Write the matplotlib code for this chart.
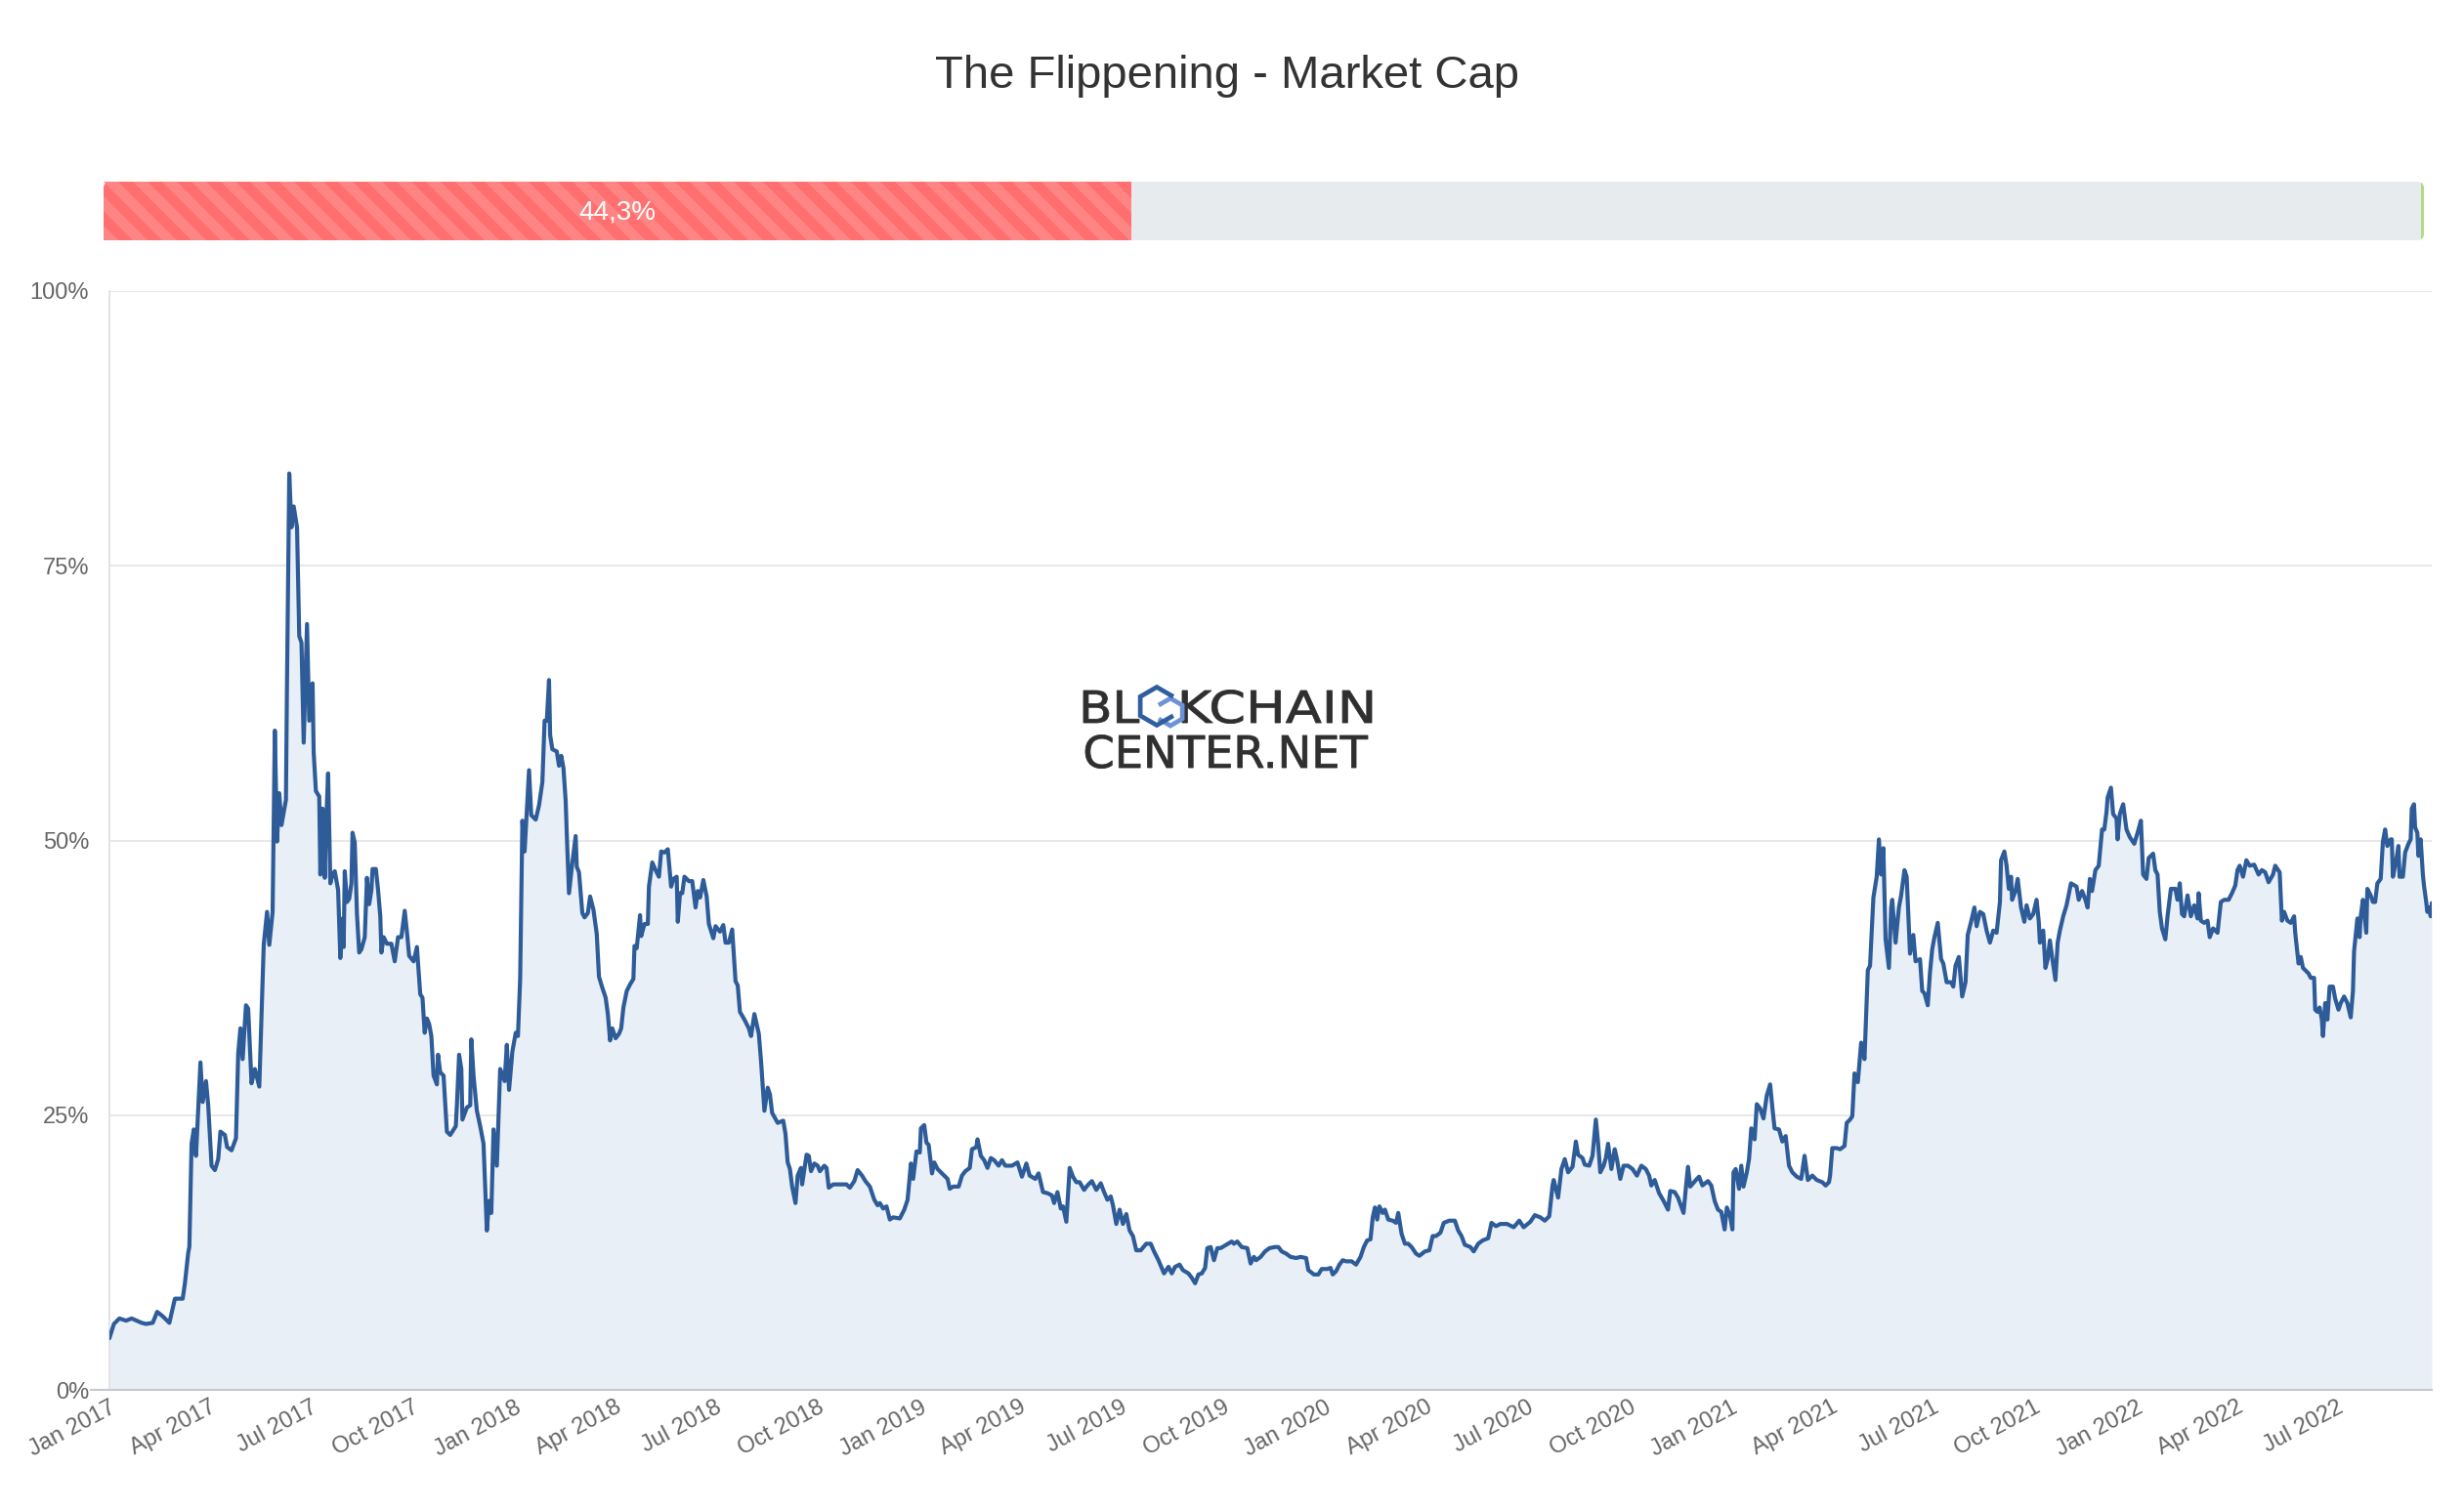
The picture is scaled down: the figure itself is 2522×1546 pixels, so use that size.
import matplotlib
matplotlib.use('Agg')
import matplotlib.pyplot as plt
import matplotlib.dates as mdates
from matplotlib.patches import FancyBboxPatch, Rectangle, Polygon, PathPatch
from matplotlib.lines import Line2D
from matplotlib.textpath import TextPath
from matplotlib.font_manager import FontProperties
from matplotlib.transforms import Affine2D
import pandas as pd
import numpy as np

plt.rcParams['font.family'] = ['Liberation Sans', 'DejaVu Sans']

TITLE = 'The Flippening - Market Cap'
CURRENT_PCT = 44.3
CURRENT_LABEL = '44,3%'
Y_TICKS = [0, 25, 50, 75, 100]
Y_TICK_LABELS = ['0%', '25%', '50%', '75%', '100%']
WATERMARK = ('BL', 'KCHAIN', 'CENTER.NET')

# (MM-DD, ETH market cap as % of BTC market cap)
data_2017 = [
    ('01-01', 4.7), ('01-05', 6.0), ('01-10', 6.5), ('01-16', 6.3), ('01-21', 6.5), ('01-30', 6.1),
    ('02-03', 6.0), ('02-09', 6.1), ('02-13', 7.1), ('02-18', 6.7), ('02-24', 6.1),
    ('03-01', 8.3), ('03-08', 8.3), ('03-10', 9.7), ('03-13', 12.5), ('03-14', 13.0), ('03-16', 22.4),
    ('03-18', 23.7), ('03-20', 21.3), ('03-24', 29.8), ('03-26', 26.2), ('03-29', 28.1), ('03-31', 25.9),
    ('04-03', 20.4), ('04-06', 20.0), ('04-09', 21.0), ('04-11', 23.5), ('04-15', 23.2), ('04-17', 22.1),
    ('04-21', 21.8), ('04-25', 22.9), ('04-27', 30.6), ('04-29', 32.9),
    ('05-01', 30.1), ('05-04', 35.0), ('05-06', 34.7), ('05-09', 27.9), ('05-12', 29.2), ('05-16', 27.6),
    ('05-18', 33.9), ('05-20', 40.5), ('05-23', 43.5), ('05-25', 40.5), ('05-28', 43.5), ('05-30', 60.0),
    ('06-01', 49.9), ('06-03', 54.3), ('06-05', 51.4), ('06-09', 53.7), ('06-10', 64.7), ('06-12', 83.4),
    ('06-14', 78.5), ('06-16', 80.4), ('06-19', 78.5), ('06-21', 68.6), ('06-23', 68.0), ('06-25', 58.9),
    ('06-28', 69.7), ('06-30', 60.9),
    ('07-03', 64.3), ('07-04', 58.0), ('07-06', 54.5), ('07-09', 54.0), ('07-10', 46.9), ('07-12', 52.9),
    ('07-14', 46.6), ('07-15', 51.0), ('07-17', 56.1), ('07-19', 46.1), ('07-21', 46.9), ('07-23', 47.2),
    ('07-26', 45.5), ('07-28', 39.3), ('07-30', 42.9), ('07-31', 40.3),
    ('08-01', 47.2), ('08-03', 44.4), ('08-05', 44.7), ('08-07', 46.1), ('08-08', 50.7), ('08-10', 49.8),
    ('08-12', 43.3), ('08-14', 39.8), ('08-16', 40.1), ('08-19', 41.2), ('08-21', 46.6), ('08-23', 44.2),
    ('08-25', 45.5), ('08-26', 47.4), ('08-29', 47.4), ('08-31', 45.5),
    ('09-02', 43.1), ('09-03', 39.8), ('09-05', 41.2), ('09-08', 40.6), ('09-12', 40.6), ('09-15', 39.0),
    ('09-18', 41.2), ('09-21', 41.2), ('09-24', 43.6), ('09-26', 41.7), ('09-28', 39.5),
    ('10-02', 39.0), ('10-05', 40.3), ('10-08', 36.0), ('10-10', 35.7), ('10-12', 32.5), ('10-14', 33.8),
    ('10-16', 33.3), ('10-18', 32.2), ('10-20', 28.6), ('10-23', 27.8), ('10-24', 30.5), ('10-26', 28.9),
    ('10-29', 28.6),
    ('11-01', 23.5), ('11-04', 23.2), ('11-09', 24.0), ('11-10', 25.9), ('11-12', 30.5), ('11-14', 29.2),
    ('11-15', 24.6), ('11-19', 25.7), ('11-22', 25.9), ('11-23', 31.9), ('11-25', 28.6), ('11-28', 25.4),
    ('12-01', 24.0), ('12-04', 22.4), ('12-07', 14.5), ('12-09', 17.2), ('12-11', 16.1), ('12-13', 23.7),
    ('12-16', 20.4), ('12-19', 29.2), ('12-23', 28.1), ('12-25', 31.4), ('12-27', 27.3), ('12-30', 30.8),
]

data_2018 = [
    ('01-02', 32.5), ('01-04', 32.2), ('01-06', 37.4), ('01-08', 51.8), ('01-10', 49.0), ('01-14', 56.4),
    ('01-16', 52.3), ('01-20', 51.9), ('01-23', 53.2), ('01-26', 55.3), ('01-28', 60.9), ('01-30', 60.9),
    ('02-01', 64.6), ('02-02', 59.6), ('02-04', 58.3), ('02-08', 58.1), ('02-10', 56.8), ('02-12', 57.7),
    ('02-14', 56.6), ('02-16', 53.6), ('02-17', 50.6), ('02-19', 45.2), ('02-22', 48.0), ('02-25', 50.4),
    ('02-26', 47.6), ('02-28', 47.1),
    ('03-03', 43.4), ('03-05', 43.0), ('03-08', 43.4), ('03-10', 44.9), ('03-13', 43.7), ('03-16', 41.5),
    ('03-18', 37.6), ('03-21', 36.6), ('03-24', 35.7), ('03-26', 34.2), ('03-28', 31.8), ('03-30', 32.9),
    ('04-02', 32.0), ('04-05', 32.4), ('04-07', 32.9), ('04-09', 34.8), ('04-12', 36.3), ('04-15', 36.9),
    ('04-18', 37.4), ('04-19', 40.4), ('04-21', 40.2), ('04-24', 43.2), ('04-25', 41.3), ('04-28', 42.4),
    ('05-01', 42.4), ('05-02', 45.8), ('05-05', 48.0), ('05-08', 47.3), ('05-11', 46.7), ('05-13', 49.0),
    ('05-16', 48.9), ('05-19', 49.2), ('05-22', 45.8), ('05-24', 46.5), ('05-27', 46.7), ('05-28', 42.6),
    ('05-30', 45.2),
    ('06-01', 45.2), ('06-03', 46.7), ('06-07', 46.3), ('06-10', 46.3), ('06-13', 43.9), ('06-15', 45.4),
    ('06-17', 44.8), ('06-20', 46.4), ('06-23', 44.9), ('06-25', 42.4), ('06-29', 41.1),
    ('07-01', 42.2), ('07-05', 41.7), ('07-08', 42.3), ('07-10', 40.7), ('07-13', 40.7), ('07-16', 41.9),
    ('07-19', 37.2), ('07-21', 36.8), ('07-23', 34.4), ('07-27', 33.7), ('07-31', 32.9),
    ('08-02', 32.2), ('08-05', 34.2), ('08-07', 33.3), ('08-09', 32.4), ('08-11', 29.9), ('08-14', 25.4),
    ('08-17', 27.5), ('08-19', 26.9), ('08-21', 25.2), ('08-26', 24.3), ('08-31', 24.5),
    ('09-02', 23.3), ('09-04', 20.7), ('09-06', 20.1), ('09-08', 18.5), ('09-11', 17.0), ('09-13', 19.5),
    ('09-16', 20.2), ('09-17', 18.7), ('09-21', 21.4), ('09-23', 21.3), ('09-25', 19.9), ('09-28', 20.6),
    ('10-01', 20.4), ('10-03', 19.9), ('10-07', 20.4), ('10-09', 20.2), ('10-11', 18.4), ('10-15', 18.7),
    ('10-21', 18.7), ('10-27', 18.7), ('10-30', 18.4),
    ('11-03', 19.0), ('11-06', 20.0), ('11-10', 19.5), ('11-13', 19.0), ('11-17', 18.5), ('11-21', 17.3),
    ('11-24', 16.8), ('11-26', 17.0), ('11-29', 16.5),
    ('12-02', 16.7), ('12-05', 15.5), ('12-08', 15.7), ('12-14', 15.6), ('12-18', 16.4), ('12-21', 17.3),
    ('12-24', 20.6), ('12-26', 19.2), ('12-29', 21.7),
]

data_2019 = [
    ('01-01', 21.6), ('01-02', 23.8), ('01-05', 24.1), ('01-07', 22.5), ('01-09', 22.3), ('01-12', 19.7),
    ('01-14', 20.7), ('01-17', 20.1), ('01-21', 19.7), ('01-26', 19.2), ('01-28', 18.3), ('01-31', 18.5),
    ('02-05', 18.5), ('02-08', 19.5), ('02-11', 19.9), ('02-15', 20.2), ('02-17', 21.9), ('02-21', 22.1),
    ('02-22', 22.8), ('02-25', 21.3), ('02-28', 20.9),
    ('03-03', 20.2), ('03-06', 21.1), ('03-09', 20.9), ('03-13', 20.4), ('03-16', 20.9), ('03-19', 20.4),
    ('03-25', 20.4), ('03-30', 20.7),
    ('04-03', 19.4), ('04-07', 20.6), ('04-10', 19.5), ('04-15', 19.2), ('04-18', 19.7), ('04-22', 18.0),
    ('04-26', 17.9), ('04-30', 17.7),
    ('05-02', 17.0), ('05-05', 18.0), ('05-08', 16.5), ('05-10', 16.7), ('05-13', 15.3), ('05-16', 20.2),
    ('05-19', 19.4), ('05-22', 18.9), ('05-25', 18.9), ('05-29', 18.2),
    ('06-01', 18.6), ('06-05', 19.0), ('06-09', 18.2), ('06-13', 18.8), ('06-16', 18.0), ('06-19', 17.3),
    ('06-22', 17.6), ('06-24', 16.8), ('06-27', 15.1), ('06-30', 16.4),
    ('07-03', 15.1), ('07-06', 16.0), ('07-09', 14.5), ('07-12', 14.0), ('07-15', 12.7), ('07-19', 12.7),
    ('07-24', 13.3), ('07-28', 13.3), ('07-31', 12.6),
    ('08-04', 11.8), ('08-09', 10.6), ('08-13', 11.2), ('08-16', 10.6), ('08-19', 11.2), ('08-23', 11.4),
    ('08-26', 10.9), ('08-31', 10.6),
    ('09-03', 10.2), ('09-06', 9.7), ('09-09', 10.5), ('09-12', 10.6), ('09-15', 11.1), ('09-17', 12.9),
    ('09-20', 13.0), ('09-23', 11.8), ('09-26', 12.9), ('09-29', 12.9),
    ('10-04', 13.2), ('10-09', 13.5), ('10-11', 13.3), ('10-14', 13.5), ('10-18', 13.0), ('10-23', 12.9),
    ('10-26', 11.5), ('10-29', 12.1), ('10-31', 11.8),
    ('11-04', 12.1), ('11-08', 12.6), ('11-12', 12.9), ('11-17', 13.0), ('11-20', 13.0), ('11-23', 12.6),
    ('11-27', 12.4),
    ('12-01', 12.1), ('12-06', 12.0), ('12-10', 12.1), ('12-15', 12.0), ('12-17', 10.9), ('12-22', 10.5),
    ('12-26', 10.5), ('12-29', 11.0),
]

data_2020 = [
    ('01-03', 11.0), ('01-06', 11.1), ('01-08', 10.5), ('01-11', 10.8), ('01-14', 11.4), ('01-17', 11.8),
    ('01-20', 11.7), ('01-25', 11.7), ('01-29', 11.4),
    ('02-02', 12.1), ('02-05', 13.0), ('02-08', 13.6), ('02-11', 13.7), ('02-13', 15.7), ('02-15', 16.6),
    ('02-17', 15.5), ('02-19', 16.7), ('02-22', 16.1), ('02-24', 16.4), ('02-27', 15.5),
    ('03-02', 15.4), ('03-05', 15.2), ('03-07', 16.1), ('03-10', 14.2), ('03-13', 13.3), ('03-16', 13.3),
    ('03-19', 13.0), ('03-23', 12.4), ('03-26', 12.2), ('03-31', 12.6),
    ('04-04', 12.7), ('04-07', 14.0), ('04-10', 14.0), ('04-14', 14.3), ('04-17', 15.2), ('04-22', 15.4),
    ('04-27', 15.4), ('04-30', 14.5),
    ('05-03', 14.0), ('05-06', 13.2), ('05-11', 13.0), ('05-14', 12.6), ('05-18', 13.3), ('05-22', 13.6),
    ('05-27', 13.8), ('05-30', 15.2),
    ('06-03', 14.9), ('06-07', 15.1), ('06-13', 15.1), ('06-19', 14.8), ('06-24', 15.4), ('06-28', 14.8),
    ('07-04', 15.3), ('07-08', 15.9), ('07-13', 15.7), ('07-17', 15.4), ('07-21', 15.8), ('07-24', 18.6),
    ('07-25', 19.1), ('07-29', 17.5),
    ('08-01', 20.1), ('08-04', 21.0), ('08-07', 19.8), ('08-11', 20.3), ('08-14', 22.6), ('08-16', 21.4),
    ('08-20', 21.1), ('08-22', 20.5), ('08-26', 20.4), ('08-29', 21.3),
    ('09-01', 24.6), ('09-03', 22.5), ('09-05', 19.8), ('09-08', 20.4), ('09-10', 21.1), ('09-12', 22.4),
    ('09-15', 20.1), ('09-18', 21.9), ('09-20', 21.0), ('09-23', 19.2), ('09-26', 20.4), ('09-30', 20.4),
    ('10-04', 20.1), ('10-08', 19.5), ('10-12', 20.4), ('10-16', 20.1), ('10-19', 19.5), ('10-21', 18.6),
    ('10-24', 19.1), ('10-28', 17.9),
    ('11-01', 17.2), ('11-05', 16.4), ('11-07', 18.1), ('11-11', 18.0), ('11-14', 17.5), ('11-19', 16.1),
    ('11-21', 18.3), ('11-23', 20.3), ('11-25', 18.5),
    ('12-01', 19.2), ('12-03', 19.4), ('12-06', 18.6), ('12-11', 19.0), ('12-14', 18.6), ('12-17', 17.2),
    ('12-20', 16.4), ('12-23', 16.2), ('12-25', 15.1), ('12-26', 14.6), ('12-28', 16.6), ('12-31', 15.8),
]

data_2021 = [
    ('01-02', 14.6), ('01-03', 19.8), ('01-05', 20.1), ('01-08', 18.3), ('01-10', 20.4), ('01-12', 18.5),
    ('01-15', 19.8), ('01-17', 21.0), ('01-19', 23.8), ('01-22', 22.8), ('01-24', 26.0), ('01-27', 25.6),
    ('01-30', 24.7),
    ('02-02', 26.8), ('02-05', 27.8), ('02-07', 25.7), ('02-09', 23.8), ('02-13', 23.7), ('02-16', 22.6),
    ('02-19', 23.1), ('02-22', 20.4), ('02-25', 19.8),
    ('03-01', 19.4), ('03-05', 19.2), ('03-08', 21.3), ('03-11', 19.1), ('03-15', 19.5), ('03-19', 19.1),
    ('03-24', 18.9), ('03-27', 18.6), ('03-30', 18.9), ('03-31', 19.5),
    ('04-02', 22.0), ('04-06', 22.0), ('04-09', 21.9), ('04-13', 22.2), ('04-15', 24.3), ('04-18', 24.6),
    ('04-20', 24.9), ('04-22', 28.8), ('04-25', 28.0), ('04-28', 31.6),
    ('05-01', 30.1), ('05-04', 38.2), ('05-06', 38.6), ('05-09', 44.8), ('05-12', 46.7), ('05-14', 50.1),
    ('05-16', 46.9), ('05-18', 49.3), ('05-20', 41.0), ('05-23', 38.4), ('05-25', 43.9), ('05-26', 44.6),
    ('05-29', 40.7),
    ('06-01', 43.9), ('06-03', 45.0), ('06-06', 47.3), ('06-08', 46.7), ('06-11', 39.7), ('06-14', 41.4),
    ('06-16', 39.0), ('06-20', 39.2), ('06-22', 36.3), ('06-24', 36.1), ('06-27', 35.0), ('06-29', 38.0),
    ('07-01', 40.1), ('07-03', 41.2), ('07-06', 42.5), ('07-09', 39.2), ('07-11', 38.8), ('07-14', 37.1),
    ('07-18', 37.1), ('07-20', 36.7), ('07-22', 38.6), ('07-25', 39.4), ('07-28', 35.8), ('07-31', 37.1),
    ('08-02', 41.4), ('08-05', 42.6), ('08-08', 43.9), ('08-10', 42.2), ('08-13', 43.5), ('08-16', 43.3),
    ('08-19', 41.8), ('08-22', 40.7), ('08-25', 41.8), ('08-28', 41.6), ('08-31', 44.4),
    ('09-01', 48.2), ('09-04', 49.0), ('09-06', 47.7), ('09-08', 45.6), ('09-10', 46.7), ('09-11', 44.6),
    ('09-14', 45.4), ('09-16', 46.5), ('09-19', 43.9), ('09-22', 42.6), ('09-24', 44.1), ('09-27', 42.9),
    ('09-30', 43.3),
    ('10-03', 44.6), ('10-05', 42.6), ('10-06', 40.7), ('10-09', 41.8), ('10-11', 38.4), ('10-13', 39.2),
    ('10-15', 40.9), ('10-17', 39.4), ('10-20', 37.3), ('10-22', 40.7), ('10-24', 41.8), ('10-27', 43.1),
    ('10-30', 44.1),
    ('11-03', 46.1), ('11-08', 45.8), ('11-10', 44.6), ('11-13', 45.4), ('11-16', 44.6), ('11-18', 43.9),
    ('11-20', 46.5), ('11-22', 45.4), ('11-25', 47.3), ('11-28', 47.7),
    ('12-01', 51.0), ('12-03', 51.0), ('12-05', 52.6), ('12-06', 53.9), ('12-09', 54.8), ('12-11', 52.4),
    ('12-14', 52.0), ('12-15', 50.1), ('12-17', 52.4), ('12-20', 53.3), ('12-23', 51.0), ('12-26', 50.3),
    ('12-30', 49.7),
]

data_2022 = [
    ('01-02', 50.7), ('01-05', 51.8), ('01-07', 46.9), ('01-10', 46.5), ('01-12', 48.4), ('01-16', 48.8),
    ('01-18', 47.3), ('01-20', 46.9), ('01-22', 43.5), ('01-24', 42.0), ('01-27', 41.0), ('01-29', 43.1),
    ('02-01', 45.6), ('02-05', 45.6), ('02-07', 44.6), ('02-09', 46.1), ('02-11', 43.3), ('02-13', 43.1),
    ('02-16', 45.0), ('02-19', 43.1), ('02-22', 44.1), ('02-25', 42.9), ('02-26', 45.2), ('02-28', 42.7),
    ('03-03', 42.5), ('03-06', 42.7), ('03-08', 41.2), ('03-11', 42.0), ('03-15', 41.6), ('03-18', 44.4),
    ('03-21', 44.6), ('03-25', 44.6), ('03-28', 45.2), ('03-31', 45.9),
    ('04-02', 47.3), ('04-04', 47.7), ('04-07', 46.7), ('04-10', 48.2), ('04-13', 47.7), ('04-17', 47.8),
    ('04-21', 46.9), ('04-24', 47.3), ('04-27', 47.1), ('04-30', 46.2),
    ('05-04', 46.9), ('05-06', 47.7), ('05-10', 47.1), ('05-12', 42.7), ('05-14', 43.5), ('05-17', 42.7),
    ('05-20', 42.5), ('05-23', 43.1), ('05-24', 41.6), ('05-27', 38.8), ('05-29', 39.4), ('05-31', 38.4),
    ('06-02', 38.2), ('06-05', 37.9), ('06-07', 37.5), ('06-10', 37.5), ('06-11', 34.6), ('06-13', 34.4),
    ('06-15', 34.8), ('06-17', 33.7), ('06-18', 32.2), ('06-20', 35.2), ('06-22', 33.7), ('06-24', 36.7),
    ('06-27', 36.7), ('06-29', 35.6),
    ('07-02', 34.6), ('07-04', 35.2), ('07-07', 35.8), ('07-10', 35.2), ('07-13', 33.9), ('07-15', 36.3),
    ('07-16', 39.9), ('07-19', 42.9), ('07-21', 41.2), ('07-22', 43.1), ('07-24', 44.6), ('07-27', 41.6),
    ('07-28', 45.6), ('07-31', 45.0),
    ('08-02', 44.4), ('08-04', 44.4), ('08-06', 46.1), ('08-09', 46.5), ('08-11', 49.9), ('08-13', 51.0),
    ('08-15', 49.5), ('08-18', 50.1), ('08-19', 50.1), ('08-20', 46.7), ('08-23', 48.2), ('08-25', 49.5),
    ('08-26', 46.7), ('08-29', 46.7), ('08-31', 48.9),
    ('09-03', 49.7), ('09-05', 50.1), ('09-06', 52.9), ('09-08', 53.3), ('09-09', 51.2), ('09-11', 50.7),
    ('09-12', 48.6), ('09-14', 50.1), ('09-16', 46.9), ('09-17', 45.9), ('09-19', 44.4), ('09-20', 43.5),
    ('09-22', 43.9), ('09-23', 43.1), ('09-24', 44.3),
]

yearly = {2017: data_2017, 2018: data_2018, 2019: data_2019,
          2020: data_2020, 2021: data_2021, 2022: data_2022}
rows = [(pd.Timestamp(f'{yr}-{md}'), v) for yr, lst in yearly.items() for md, v in lst]
df = pd.DataFrame(rows, columns=['date', 'pct']).sort_values('date').reset_index(drop=True)

# ---------------------------------------------------------------- layout
W, H = 2522, 1546
fig = plt.figure(figsize=(W / 100, H / 100), dpi=100)
fig.patch.set_facecolor('white')
# pixel coordinates of the output image (origin bottom-left)
px_tr = Affine2D().scale(1 / W, 1 / H) + fig.transFigure


def fx(px):
    return px / W


def fy(py):
    return 1 - py / H


PL, PR, PT, PB = 112, 2489, 298, 1423
ax = fig.add_axes([fx(PL), fy(PB), (PR - PL) / W, (PB - PT) / H])
ax.fill_between(df['date'], df['pct'], 0, color='#e8eff7', lw=0, zorder=1)
ax.plot(df['date'], df['pct'], color='#2e5c99', lw=3.0, zorder=3,
        solid_joinstyle='round', solid_capstyle='round')
ax.set_xlim(df['date'].iloc[0], df['date'].iloc[-1])
ax.set_ylim(0, 100)

ax.set_yticks(Y_TICKS)
ax.set_yticklabels(Y_TICK_LABELS)
ax.grid(axis='y', color='#e6e6e6', lw=1.3, zorder=0)
ax.set_axisbelow(True)

ax.xaxis.set_major_locator(mdates.MonthLocator(bymonth=[1, 4, 7, 10]))
ax.xaxis.set_major_formatter(mdates.DateFormatter('%b %Y'))

for s in ['top', 'right']:
    ax.spines[s].set_visible(False)
ax.spines['left'].set_color('#e3e3e3')
ax.spines['left'].set_linewidth(1.4)
ax.spines['bottom'].set_color('#c3c8d1')
ax.spines['bottom'].set_linewidth(1.5)
ax.spines['bottom'].set_zorder(4)

ax.tick_params(axis='y', length=0, pad=15, labelsize=17, labelcolor='#666666')
ax.tick_params(axis='x', length=0, pad=5, labelsize=17, labelcolor='#666666')
for t in ax.get_xticklabels():
    t.set_rotation(28)
    t.set_ha('right')
    t.set_va('top')
    t.set_rotation_mode('anchor')

# short stub of the axis line left of the plot, next to "0%"
fig.add_artist(Line2D([93, PL], [H - PB, H - PB], transform=px_tr,
                      color='#c3c8d1', lw=1.5, zorder=4))

# ---------------------------------------------------------------- title
fig.text(fx(1256), fy(90), TITLE, ha='center', va='baseline',
         fontsize=34, color='#333333')

# ---------------------------------------------------------------- progress bar
BX0, BX1, BY0, BY1 = 106, 2481, 186, 246
bw, bh = BX1 - BX0, BY1 - BY0
bax = fig.add_axes([fx(BX0), fy(BY1), bw / W, bh / H])
bax.set_xlim(0, bw)
bax.set_ylim(0, bh)
bax.axis('off')

track = FancyBboxPatch((0, 0), bw, bh, boxstyle='round,pad=0,rounding_size=7',
                       facecolor='#e8ebee', edgecolor='none', zorder=1)
bax.add_patch(track)
green = Rectangle((bw - 3.5, 0), 3.5, bh, facecolor='#b3da84', edgecolor='none', zorder=1.5)
bax.add_patch(green)
green.set_clip_path(track)

red_w = bw * CURRENT_PCT / 100.0
red = Rectangle((0, 0), red_w, bh, facecolor='#ff6f6f', edgecolor='none', zorder=2)
bax.add_patch(red)
red.set_clip_path(track)

period, sw = 30, 15
k = -4
while k * period < red_w + bh:
    x0 = k * period
    poly = Polygon([(x0, bh), (x0 + sw, bh), (x0 + sw + bh, 0), (x0 + bh, 0)],
                   closed=True, facecolor='#ff8585', edgecolor='none', zorder=3)
    bax.add_patch(poly)
    poly.set_clip_path(red)
    k += 1

bax.text(red_w / 2, bh / 2 - 2, CURRENT_LABEL, ha='center', va='center',
         fontsize=20, color='white', zorder=5)

# ---------------------------------------------------------------- watermark
wm_font = FontProperties(family='DejaVu Sans')
cap_ref = TextPath((0, 0), 'H', size=100, prop=wm_font).get_extents().y1


def wm_text(s, x0, x1, cap_top, baseline, color='#2f2f2f'):
    tp = TextPath((0, 0), s, size=100, prop=wm_font)
    ext = tp.get_extents()
    sx = (x1 - x0) / ext.width
    sy = (baseline - cap_top) / cap_ref
    tr = (Affine2D().translate(-ext.x0, 0).scale(sx, sy)
          .translate(x0, H - baseline) + px_tr)
    fig.add_artist(PathPatch(tp, transform=tr, facecolor=color,
                             edgecolor=color, lw=0.6, zorder=10))


wm_text(WATERMARK[0], 1109, 1166, 707, 740)
wm_text(WATERMARK[1], 1210, 1404, 707, 740)
wm_text(WATERMARK[2], 1111, 1400, 753, 786)


def hexagon_c(cx, cy, r, angles, color):
    a = np.deg2rad(angles)
    xs = cx + r * np.cos(a)
    ys = (H - cy) + r * np.sin(a)
    fig.add_artist(Line2D(xs, ys, transform=px_tr, color=color, lw=3.4,
                          solid_joinstyle='miter', solid_capstyle='butt', zorder=10))


hexagon_c(1198, 729, 14, [150, 90, 30, -30, -90, -150], '#6b93d6')
hexagon_c(1184, 723, 19.5, [30, 90, 150, 210, 270, 330], '#2f5f9f')

fig.savefig('out.png', dpi=100, facecolor='white')
